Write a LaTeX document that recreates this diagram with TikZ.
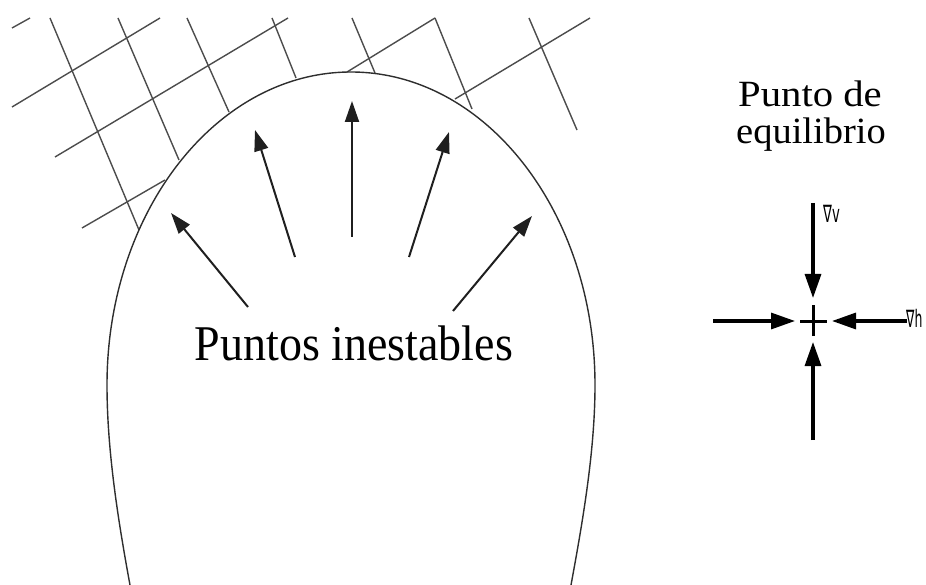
\documentclass[tikz,border=0pt]{standalone}
\usepackage{fontspec}
\setmainfont{Liberation Serif}
\newfontfamily\symfont{DejaVu Sans}
\usetikzlibrary{arrows.meta}
\begin{document}
\begin{tikzpicture}[x=1pt,y=-1pt,
  gridline/.style={draw=black!70, line width=1.4pt},
  eggline/.style={draw=black!82, line width=1.4pt},
  outarrow/.style={draw=black!88, line width=2pt, -{Triangle[length=21pt,width=14pt]}},
  eqarrow/.style={draw=black, line width=3.2pt, -{Triangle[length=24pt,width=16pt]}},
  plusline/.style={draw=black, line width=3pt},
  bigtext/.style={inner sep=0pt, anchor=base, font=\fontsize{50}{50}\selectfont},
  eqtext/.style={inner sep=0pt, anchor=base, font=\fontsize{37}{37}\selectfont},
  gradtext/.style={inner sep=0pt, font=\symfont\fontsize{24}{24}\selectfont}
]
\useasboundingbox (0,0) rectangle (926,585);
\clip (0,0) rectangle (926,585);

% grid (family rising to the right)
\draw[gridline] (12,28) -- (30,18);
\draw[gridline] (12,107) -- (160,18);
\draw[gridline] (55,157) -- (288,18);
\draw[gridline] (82,228) -- (165,180);
\draw[gridline] (347,72) -- (435,18);
\draw[gridline] (455,99) -- (590,18);
% grid (steep family)
\draw[gridline] (50,18) -- (139,230);
\draw[gridline] (118,18) -- (179,160);
\draw[gridline] (187,18) -- (229,112);
\draw[gridline] (272,18) -- (296,78);
\draw[gridline] (352,18) -- (375,73);
\draw[gridline] (435,18) -- (472,109);
\draw[gridline] (529,18) -- (577,130);

% egg-shaped region
\draw[eggline] (130,585) .. controls (118,520) and (107,450) .. (107,385)
  arc[start angle=180, end angle=0, x radius=244pt, y radius=313pt]
  .. controls (595,450) and (583,520) .. (571,585);

% outward arrows
\coordinate (t1) at (248,307); \coordinate (h1) at (171,213);
\coordinate (t2) at (295,257); \coordinate (h2) at (255,130);
\coordinate (t3) at (352,237); \coordinate (h3) at (352,101);
\coordinate (t4) at (409,257); \coordinate (h4) at (449,132);
\coordinate (t5) at (453,311); \coordinate (h5) at (532,216);
\draw[outarrow] (t1) -- (h1);
\draw[outarrow] (t2) -- (h2);
\draw[outarrow] (t3) -- (h3);
\draw[outarrow] (t4) -- (h4);
\draw[outarrow] (t5) -- (h5);

\node[bigtext] (inest) at (354,360) {\scalebox{0.92}[1]{Puntos inestables}};

% equilibrium point
\node[eqtext, text depth=0pt] (eq1) at (810,107) {\scalebox{1.1}[1]{Punto de}};
\node[eqtext, text height=26pt] (eq2) at (811,144) {\scalebox{1.04}[1]{equilibrio}};

\coordinate (c) at (813,321);
\coordinate (vtop) at (813,203); \coordinate (vtip) at (813,298);
\coordinate (btop) at (813,440); \coordinate (btip) at (813,342);
\coordinate (ltail) at (713,321); \coordinate (ltip) at (795,321);
\coordinate (rtail) at (907,321); \coordinate (rtip) at (832,321);
\draw[eqarrow] (vtop) -- (vtip);
\draw[eqarrow] (btop) -- (btip);
\draw[eqarrow] (ltail) -- (ltip);
\draw[eqarrow] (rtail) -- (rtip);
\draw[plusline] ([xshift=-13pt]c) -- ([xshift=14pt]c);
\draw[plusline] ([yshift=-15pt]c) -- ([yshift=16pt]c);

\node[gradtext, anchor=west] (gv) at (823,214) {\scalebox{0.55}[1]{∇v}};
\node[gradtext, anchor=west] (gh) at (906,318) {\scalebox{0.52}[1]{∇h}};
\end{tikzpicture}
\end{document}
